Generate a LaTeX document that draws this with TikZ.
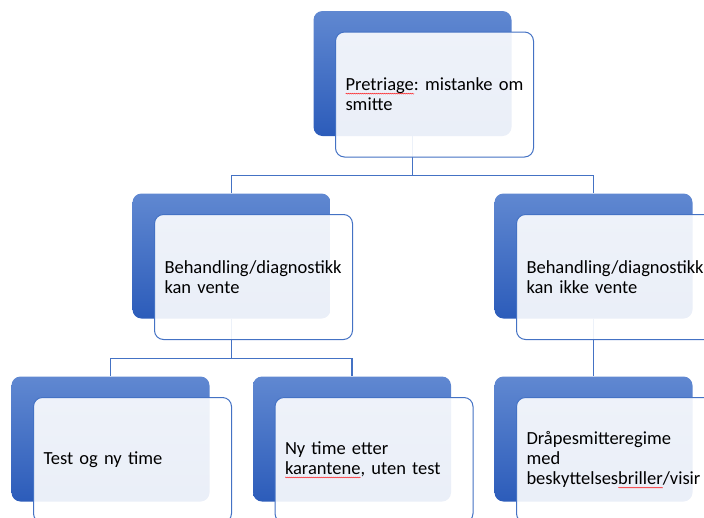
\documentclass[tikz,border=0pt]{standalone}
\usepackage{fontspec}
\setmainfont{Carlito}
\usetikzlibrary{decorations.pathmorphing}
\definecolor{blaTopp}{RGB}{96,136,209}
\definecolor{blaBunn}{RGB}{44,92,186}
\definecolor{strek}{RGB}{68,114,196}
\frenchspacing
\newsavebox{\ordboks}
\newcommand{\stav}[1]{\leavevmode\sbox{\ordboks}{#1}\rlap{\tikz[baseline=0pt]\draw[red, sharp corners, line width=0.35pt, decorate, decoration={snake, amplitude=0.5pt, segment length=2pt}] (0pt,-2.8pt) -- (\wd\ordboks,-2.8pt);}\usebox{\ordboks}}

\begin{document}
\begin{tikzpicture}[x=1pt, y=-1pt,
    bak/.style={rounded corners=9pt, minimum width=198pt, minimum height=125pt,
        inner sep=0pt, top color=blaTopp, bottom color=blaBunn},
    boks/.style={draw=strek, line width=1pt, rounded corners=9pt, fill=white,
        fill opacity=0.9, text opacity=1, text width=178pt, inner sep=10pt,
        minimum height=125pt, align=left, font=\fontsize{18.5}{20}\selectfont},
    forb/.style={draw=strek, line width=1.3pt}]
                \useasboundingbox (0,0) rectangle (704,517);
                % bakre blaa flater
                \node[bak] (preB) at (412.5,73.5) {};
                \node[bak] (venteB) at (231.5,256) {};
                \node[bak] (ikkeB) at (593.5,256) {};
                \node[bak] (testB) at (110.5,439) {};
                \node[bak] (nyB) at (352,439) {};
                \node[bak] (drapeB) at (593.5,439) {};
                \draw [forb]
                    (preB.south) -- ++(0,39) -| (venteB.north)
                    (preB.south) -- ++(0,39) -| (ikkeB.north)
                    (venteB.south) -- ++(0,40) -| (testB.north)
                    (venteB.south) -- ++(0,40) -| (nyB.north)
                    (ikkeB.south) -- (drapeB.north);
                % tekstbokser
                \node[boks] (pre) at (434.5,94.5) {\stav{Pretriage}: mistanke om\\smitte};
                \node[boks] (vente) at (253.5,277) {Behandling/diagnostikk\\kan vente};
                \node[boks] (ikke) at (615.5,277) {Behandling/diagnostikk\\kan ikke vente};
                \node[boks] (test) at (132.5,460) {Test og ny time};
                \node[boks] (ny) at (374,460) {Ny time etter\\\stav{karantene}, uten test};
                \node[boks] (drape) at (615.5,460) {Dråpesmitteregime\\med\\beskyttelses\stav{briller}/visir};
            \end{tikzpicture}
\end{document}
